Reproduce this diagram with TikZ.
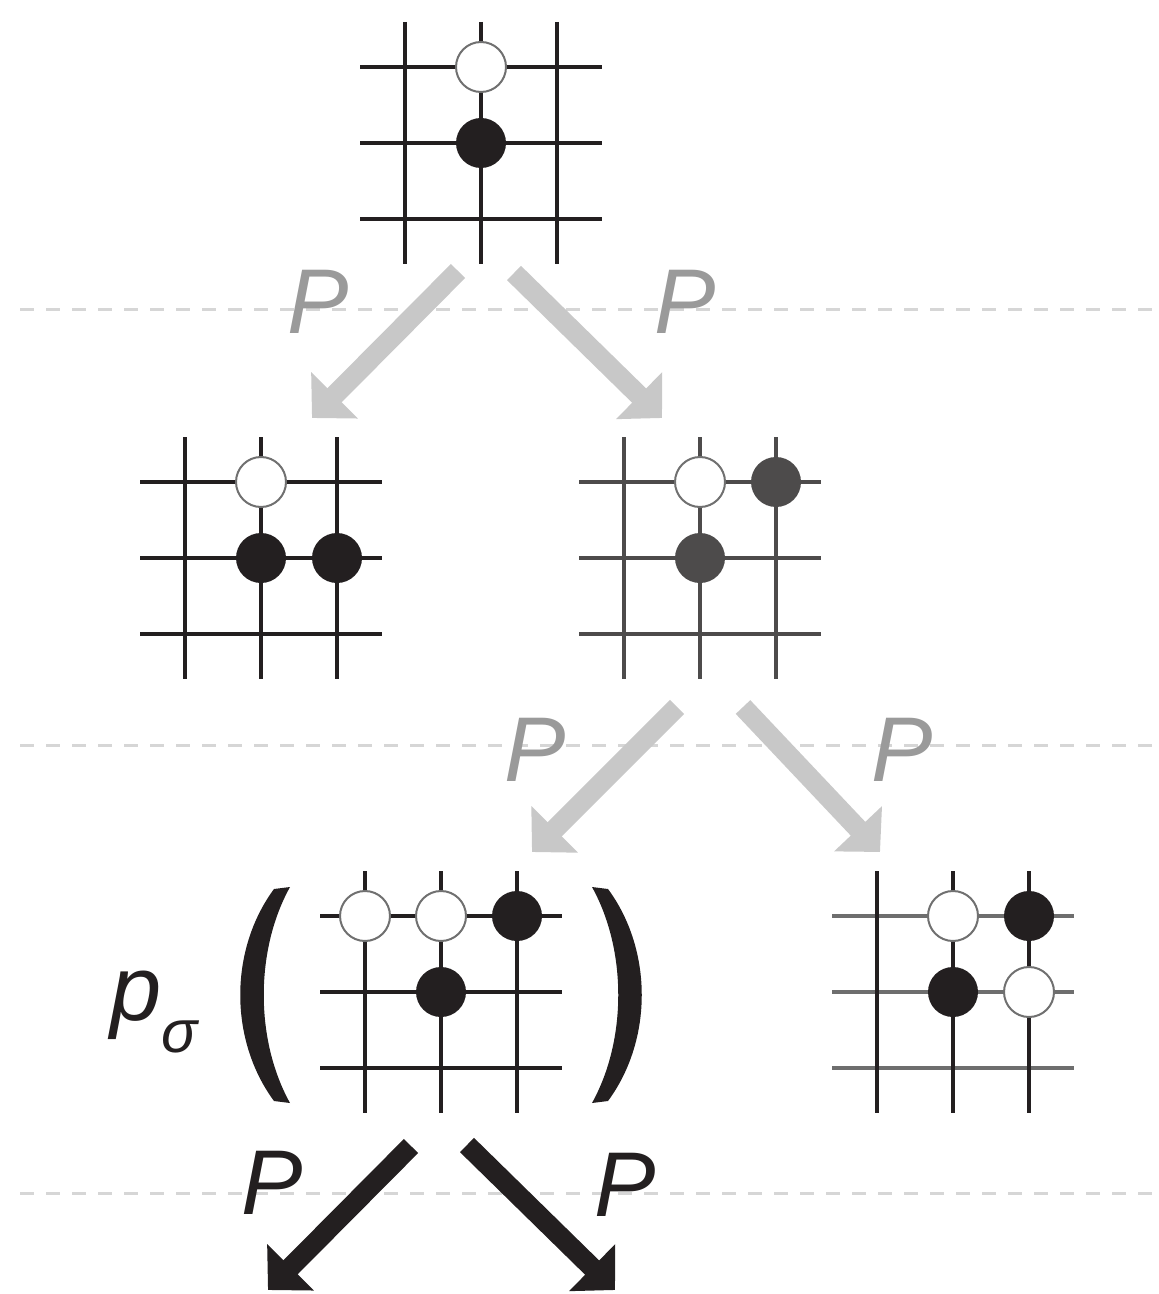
\documentclass[tikz,border=0pt]{standalone}
\usepackage{fontspec}
\setmainfont{Liberation Sans}
\usetikzlibrary{arrows.meta}
\definecolor{ink}{HTML}{231F20}
\definecolor{slate}{HTML}{4D4B4B}
\definecolor{midgrey}{HTML}{6E6E6E}
\definecolor{rimgrey}{HTML}{707070}
\definecolor{flowgrey}{HTML}{C8C8C8}
\definecolor{labgrey}{HTML}{9A9A9A}
\definecolor{dashgrey}{HTML}{D6D6D6}
\tikzset{
gridH/.store in=\gridH,gridV/.store in=\gridV,gridH=ink,gridV=ink,
gridline/.style={line width=2pt},
goboard/.pic={
\foreach \k in {-76,0,76}{\draw[gridline,draw=\gridH] (-121,\k) -- (121,\k);}
\foreach \k in {-76,0,76}{\draw[gridline,draw=\gridV] (\k,-121) -- (\k,121);}
},
stone/.style={circle,minimum size=25pt,inner sep=0pt},
wstone/.style={stone,fill=white,draw=rimgrey,line width=1pt},
bstone/.style={stone,fill=ink},
dstone/.style={stone,fill=slate},
level/.style={dashgrey,line width=1.5pt,dash pattern=on 7pt off 6pt},
move/.style={-{Triangle[length=16pt,width=32pt]},line width=10pt,flowgrey},
play/.style={move,ink},
plab/.style={font=\fontsize{46}{46}\selectfont\itshape,inner sep=0pt,text=labgrey},
paren/.style={fill=ink}
}
\begin{document}
\begin{tikzpicture}[x=0.5pt,y=-0.5pt]
\useasboundingbox (0,0) rectangle (1158,1294);
\foreach \y in {310,745,1193}{\draw[level] (20,\y) -- (1158,\y);}

\node[plab] (l1) at (318,302) {P};
\node[plab] (l2) at (685,302) {P};
\node[plab] (l3) at (535,750) {P};
\node[plab] (l4) at (902,750) {P};
\node[plab,text=ink] (l5) at (272,1183) {P};
\node[plab,text=ink] (l6) at (625,1185) {P};

\coordinate (root-l) at (458,271);
\coordinate (root-r) at (514,273);
\coordinate (left-in) at (312,418);
\coordinate (right-in) at (662,418);
\coordinate (right-l) at (677,707);
\coordinate (right-r) at (743,707);
\coordinate (leaf-in) at (532,852);
\coordinate (side-in) at (880,852);
\coordinate (leaf-l) at (411,1146);
\coordinate (leaf-r) at (467,1145);
\coordinate (next-l) at (268,1290);
\coordinate (next-r) at (615,1290);
\draw[move] (root-l) -- (left-in);
\draw[move] (root-r) -- (right-in);
\draw[move] (right-l) -- (leaf-in);
\draw[move] (right-r) -- (side-in);
\draw[play] (leaf-l) -- (next-l);
\draw[play] (leaf-r) -- (next-r);

\pic at (481,143) {goboard};
\node[wstone] (s0a) at (481,67) {};
\node[bstone] (s0b) at (481,143) {};

\pic at (261,558) {goboard};
\node[wstone] (s1a) at (261,482) {};
\node[bstone] (s1b) at (261,558) {};
\node[bstone] (s1c) at (337,558) {};

\pic[gridH=slate,gridV=slate] at (700,558) {goboard};
\node[wstone] (s2a) at (700,482) {};
\node[dstone] (s2b) at (776,482) {};
\node[dstone] (s2c) at (700,558) {};

\pic at (441,992) {goboard};
\node[wstone] (s3a) at (365,916) {};
\node[wstone] (s3b) at (441,916) {};
\node[bstone] (s3c) at (517,916) {};
\node[bstone] (s3d) at (441,992) {};

\pic[gridH=midgrey] at (953,992) {goboard};
\node[wstone] (s4a) at (953,916) {};
\node[bstone] (s4b) at (1029,916) {};
\node[bstone] (s4c) at (953,992) {};
\node[wstone] (s4d) at (1029,992) {};

\fill[paren] (274,889) .. controls (229,950) and (229,1040) .. (274,1101) -- (290,1103) .. controls (255,1040) and (255,950) .. (290,887) -- cycle;
\fill[paren] (608,889) .. controls (653,950) and (653,1040) .. (608,1101) -- (592,1103) .. controls (627,1040) and (627,950) .. (592,887) -- cycle;
\node[plab,text=ink,anchor=base west] (psig) at (110,1020) {p\raisebox{-16pt}{\fontsize{30}{30}\selectfont σ}};
\end{tikzpicture}
\end{document}
